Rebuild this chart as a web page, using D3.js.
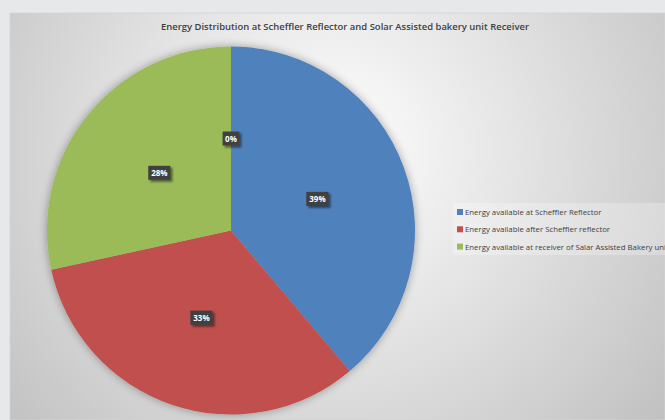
<!DOCTYPE html>
<html>
<head>
<meta charset="utf-8">
<script src="https://cdn.jsdelivr.net/npm/d3@7"></script>
<style>
  body { margin: 0; background: #e7e8ea; }
  svg { display: block; }
</style>
</head>
<body>
<script>
// values (percent of total)
var categories = ["Energy available at Scheffler Reflector",
                  "Energy available after Scheffler reflector",
                  "Energy available at receiver of Salar Assisted Bakery unit",
                  ""];
var values = [38.8, 32.7, 28.4, 0];
var colors = ["#4f81bd", "#c0504d", "#9bbb59", "#8064a2"];

var width = 665, height = 420;
var title = "Energy Distribution at  Scheffler Reflector and Solar Assisted bakery unit Receiver";

const svg = d3.select("body").append("svg")
    .attr("width", width)
    .attr("height", height);

const defs = svg.append("defs");

var grad = defs.append("radialGradient")
    .attr("id", "bg")
    .attr("gradientUnits", "userSpaceOnUse")
    .attr("cx", 330).attr("cy", 150).attr("r", 420);
grad.append("stop").attr("offset", "0%").attr("stop-color", "#ffffff");
grad.append("stop").attr("offset", "45%").attr("stop-color", "#e4e4e4");
grad.append("stop").attr("offset", "100%").attr("stop-color", "#c2c2c2");

var glow = defs.append("filter").attr("id", "glow")
    .attr("x", "-20%").attr("y", "-20%").attr("width", "140%").attr("height", "140%");
glow.append("feGaussianBlur").attr("in", "SourceAlpha").attr("stdDeviation", 5).attr("result", "b");
glow.append("feComponentTransfer").attr("in", "b").attr("result", "s")
    .append("feFuncA").attr("type", "linear").attr("slope", 0.35);
var m1 = glow.append("feMerge");
m1.append("feMergeNode").attr("in", "s");
m1.append("feMergeNode").attr("in", "SourceGraphic");

var drop = defs.append("filter").attr("id", "drop")
    .attr("x", "-30%").attr("y", "-30%").attr("width", "170%").attr("height", "170%");
drop.append("feGaussianBlur").attr("in", "SourceAlpha").attr("stdDeviation", 1.2).attr("result", "b");
drop.append("feOffset").attr("in", "b").attr("dx", 1.5).attr("dy", 1.5).attr("result", "o");
drop.append("feComponentTransfer").attr("in", "o").attr("result", "s")
    .append("feFuncA").attr("type", "linear").attr("slope", 0.5);
var m2 = drop.append("feMerge");
m2.append("feMergeNode").attr("in", "s");
m2.append("feMergeNode").attr("in", "SourceGraphic");

// chart area
svg.append("rect")
    .attr("x", 10).attr("y", 13)
    .attr("width", width - 10).attr("height", height - 13)
    .attr("fill", "url(#bg)")
    .attr("stroke", "#d4d4d4").attr("stroke-width", 0.8);

svg.append("text")
    .attr("x", 345).attr("y", 30)
    .attr("text-anchor", "middle")
    .attr("font-family", "Open Sans, sans-serif")
    .attr("font-size", 9.2)
    .attr("font-weight", 600)
    .attr("fill", "#404040")
    .attr("textLength", 368)
    .attr("lengthAdjust", "spacingAndGlyphs")
    .text(title);

var cx = 231, cy = 230.5, r = 184;
const g = svg.append("g").attr("transform", `translate(${cx}, ${cy})`);

var data = values.map((v, i) => ({name: categories[i], value: v, color: colors[i]}));
var pie = d3.pie().value(d => d.value).sort(null);
var arcs = pie(data);
var arc = d3.arc().innerRadius(0).outerRadius(r);
var labelArc = d3.arc().innerRadius(r * 0.5).outerRadius(r * 0.5);

g.append("g").attr("filter", "url(#glow)")
    .selectAll("path")
    .data(arcs.filter(d => d.data.value > 0))
    .enter()
    .append("path")
    .attr("d", arc)
    .attr("fill", d => d.data.color);

var total = d3.sum(values);
var labels = g.selectAll(".lbl")
    .data(arcs)
    .enter()
    .append("g")
    .attr("class", "lbl")
    .attr("transform", d => `translate(${labelArc.centroid(d)})`);

labels.each(function(d) {
    var txt = Math.round(d.data.value / total * 100) + "%";
    var w = txt.length * 5.4 + 6;
    var s = d3.select(this);
    s.append("rect")
        .attr("x", -w / 2).attr("y", -7)
        .attr("width", w).attr("height", 14)
        .attr("fill", "#404040")
        .attr("filter", "url(#drop)");
    s.append("text")
        .attr("text-anchor", "middle")
        .attr("y", 3)
        .attr("font-family", "Open Sans, sans-serif")
        .attr("font-size", 8)
        .attr("font-weight", 700)
        .attr("fill", "#ffffff")
        .text(txt);
});

// legend
var legendItems = data.filter(d => d.name !== "");
svg.append("rect")
    .attr("x", 453).attr("y", 203)
    .attr("width", width - 453).attr("height", 52)
    .attr("fill", "#ffffff").attr("opacity", 0.25);

var lg = svg.selectAll(".leg")
    .data(legendItems)
    .enter()
    .append("g")
    .attr("class", "leg")
    .attr("transform", (d, i) => `translate(457, ${212 + i * 17.3})`);
lg.append("rect")
    .attr("x", 0).attr("y", -3)
    .attr("width", 6).attr("height", 6)
    .attr("fill", d => d.color);
lg.append("text")
    .attr("x", 8).attr("y", 2.9)
    .attr("font-family", "Open Sans, sans-serif")
    .attr("font-size", 7.8)
    .attr("fill", "#404040")
    .text(d => d.name);
</script>
</body>
</html>
